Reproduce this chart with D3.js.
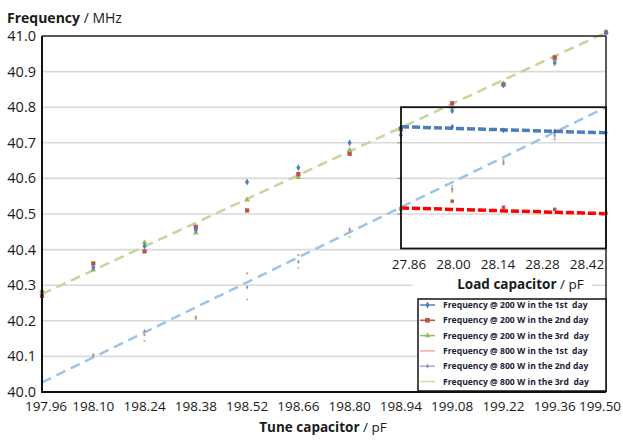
<!DOCTYPE html>
<html>
<head>
<meta charset="utf-8">
<title>Frequency vs tune capacitor</title>
<script src="https://d3js.org/d3.v7.min.js"></script>
<style>
  body { margin: 0; background: #fff; }
  text { font-family: "Open Sans", "DejaVu Sans", sans-serif; fill: #1a1a1a; }
</style>
</head>
<body>
<div id="chart"></div>
<script>
// tune capacitor values (pF)
const tuneCap = [197.96, 198.10, 198.24, 198.38, 198.52, 198.66, 198.80, 198.94, 199.08, 199.22, 199.36, 199.50];
const yTicks = [40.0, 40.1, 40.2, 40.3, 40.4, 40.5, 40.6, 40.7, 40.8, 40.9, 41.0];

// frequency readings (MHz)
const f200day1 = [40.28, 40.35, 40.41, 40.455, 40.59, 40.63, 40.70, 40.722, 40.79, 40.862, 40.925, 41.01];
const f200day2 = [40.27, 40.361, 40.395, 40.464, 40.51, 40.612, 40.669, 40.74, 40.811, 40.864, 40.94, 41.01];
const f200day3 = [40.285, 40.343, 40.42, 40.447, 40.54, 40.603, 40.68, 40.736, 40.80, 40.866, 40.935, 41.01];
const f800day1 = [40.03, 40.10, 40.16, 40.21, 40.333, 40.385, 40.45, 40.492, 40.563, 40.64, 40.71, 40.80];
const f800day2 = [40.03, 40.104, 40.171, 40.21, 40.294, 40.366, 40.457, 40.51, 40.57, 40.645, 40.72, 40.80];
const f800day3 = [40.03, 40.10, 40.143, 40.205, 40.26, 40.349, 40.436, 40.505, 40.579, 40.652, 40.727, 40.80];

// trend line end points
const trend200 = [40.275, 41.01];
const trend800 = [40.027, 40.80];

// inset: load capacitor (pF)
const loadCap = [27.86, 28.00, 28.14, 28.28, 28.42];
const load200 = [40.744, 40.745, 40.735, 40.732, 40.728];
const load800 = [40.515, 40.536, 40.519, 40.513, 40.502];
const loadTrend200 = [40.745, 40.728];
const loadTrend800 = [40.517, 40.501];

const legendLabels = [
  "Frequency @ 200 W in the 1st  day",
  "Frequency @ 200 W in the 2nd day",
  "Frequency @ 200 W in the 3rd  day",
  "Frequency @ 800 W in the 1st  day",
  "Frequency @ 800 W in the 2nd day",
  "Frequency @ 800 W in the 3rd  day"
];

const series = [
  { values: f200day1, color: "#4f81bd", shape: d3.symbolDiamond, size: 14, line: "#4f81bd" },
  { values: f200day2, color: "#c0504d", shape: d3.symbolSquare, size: 18, line: "#c0504d" },
  { values: f200day3, color: "#9bbb59", shape: d3.symbolTriangle, size: 14, line: "#9bbb59" },
  { values: f800day1, color: "#e88a8a", shape: d3.symbolSquare, size: 4, line: "#f0a9a9" },
  { values: f800day2, color: "#9d8ac4", shape: d3.symbolDiamond, size: 6, line: "#b3a5d3" },
  { values: f800day3, color: "#b5cf80", shape: d3.symbolSquare, size: 4, line: "#c9dca4" }
];

const W = 623, H = 442;
const svg = d3.select("#chart").append("svg").attr("width", W).attr("height", H);

const x = d3.scaleLinear().domain([197.96, 199.50]).range([42, 606]);
const y = d3.scaleLinear().domain([40.0, 41.0]).range([392, 36]);

// grid lines
svg.append("g").selectAll("line")
  .data(yTicks.slice(1, -1))
  .join("line")
  .attr("x1", x.range()[0]).attr("x2", x.range()[1])
  .attr("y1", d => y(d)).attr("y2", d => y(d))
  .attr("stroke", "#d9d9d9").attr("stroke-width", 1.6);

// y tick labels
svg.append("g").selectAll("text")
  .data(yTicks)
  .join("text")
  .attr("x", 36).attr("y", d => y(d) + 5)
  .attr("text-anchor", "end")
  .style("font-size", "14.5px")
  .text(d => d.toFixed(1));

// x tick labels (edge labels nudged inward like the original)
const last = tuneCap.length - 1;
svg.append("g").selectAll("text")
  .data(tuneCap)
  .join("text")
  .attr("x", (d, i) => x(d) + (i === 0 ? 4 : i === last ? -6 : 0)).attr("y", 411)
  .attr("text-anchor", "middle")
  .style("font-size", "13.5px")
  .text(d => d.toFixed(2));

// trend lines
const trendLine = (vals, color) => svg.append("line")
  .attr("x1", x(197.96)).attr("x2", x(199.50))
  .attr("y1", y(vals[0])).attr("y2", y(vals[1]))
  .attr("stroke", color).attr("stroke-width", 2.5)
  .attr("stroke-dasharray", "10,6");
trendLine(trend800, "#9dc3e6");
trendLine(trend200, "#c4d79b");

// data markers (800 W first so 200 W sits on top)
[5, 4, 3, 2, 1, 0].forEach(i => {
  const s = series[i];
  svg.append("g").selectAll("path")
    .data(tuneCap)
    .join("path")
    .attr("transform", (d, j) => `translate(${x(d)},${y(s.values[j])})`)
    .attr("d", d3.symbol().type(s.shape).size(s.size))
    .attr("fill", s.color);
});

// frame
svg.append("line").attr("x1", 42).attr("x2", 606).attr("y1", 36).attr("y2", 36)
  .attr("stroke", "#222").attr("stroke-width", 1.5);
svg.append("line").attr("x1", 606).attr("x2", 606).attr("y1", 36).attr("y2", 392)
  .attr("stroke", "#222").attr("stroke-width", 1.5);
svg.append("line").attr("x1", 42).attr("x2", 42).attr("y1", 36).attr("y2", 393)
  .attr("stroke", "#111").attr("stroke-width", 2);
svg.append("line").attr("x1", 41).attr("x2", 606).attr("y1", 392).attr("y2", 392)
  .attr("stroke", "#111").attr("stroke-width", 2);

// ---- inset: load capacitor ----
const xi = d3.scaleLinear().domain([27.86, 28.42]).range([401, 606]);
const xiLabel = d3.scaleLinear().domain([27.86, 28.42]).range([409, 587]);
const insetTop = y(40.8), insetBottom = 248.5;

svg.append("g").selectAll("line")
  .data(yTicks.filter(d => d > 40.4 && d < 40.8))
  .join("line")
  .attr("x1", 397).attr("x2", 401)
  .attr("y1", d => y(d)).attr("y2", d => y(d))
  .attr("stroke", "#999").attr("stroke-width", 1);

const insetLine = (vals, color) => svg.append("line")
  .attr("x1", xi(27.86)).attr("x2", xi(28.42))
  .attr("y1", y(vals[0])).attr("y2", y(vals[1]))
  .attr("stroke", color).attr("stroke-width", 3.5)
  .attr("stroke-dasharray", "8,3");
insetLine(loadTrend200, "#4a7ebb");
insetLine(loadTrend800, "#ff0000");

svg.append("g").selectAll("path")
  .data(loadCap)
  .join("path")
  .attr("transform", (d, j) => `translate(${xi(d)},${y(load200[j])})`)
  .attr("d", d3.symbol().type(d3.symbolDiamond).size(10))
  .attr("fill", "#3d6fae");
svg.append("g").selectAll("path")
  .data(loadCap)
  .join("path")
  .attr("transform", (d, j) => `translate(${xi(d)},${y(load800[j])})`)
  .attr("d", d3.symbol().type(d3.symbolSquare).size(12))
  .attr("fill", "#c0504d");

svg.append("rect")
  .attr("x", 401).attr("y", insetTop)
  .attr("width", 606 - 401).attr("height", insetBottom - insetTop)
  .attr("fill", "none").attr("stroke", "#111").attr("stroke-width", 1.8);

svg.append("g").selectAll("text")
  .data(loadCap)
  .join("text")
  .attr("x", d => xiLabel(d)).attr("y", 269)
  .attr("text-anchor", "middle")
  .style("font-size", "13.5px")
  .text(d => d.toFixed(2));

svg.append("rect").attr("x", 413).attr("y", 276).attr("width", 179).attr("height", 18).attr("fill", "#fff");
const loadTitle = svg.append("text").attr("x", 520.5).attr("y", 289)
  .attr("text-anchor", "middle").style("font-size", "13.5px");
loadTitle.append("tspan").style("font-weight", "bold").text("Load capacitor");
loadTitle.append("tspan").text(" / pF");

// ---- legend ----
const lg = svg.append("g");
lg.append("rect").attr("x", 418).attr("y", 299).attr("width", 188).attr("height", 92)
  .attr("fill", "#fff").attr("stroke", "#111").attr("stroke-width", 1.5);
legendLabels.forEach((lab, i) => {
  const s = series[i];
  const cy = 305 + i * 15.3;
  lg.append("line").attr("x1", 420).attr("x2", 435).attr("y1", cy).attr("y2", cy)
    .attr("stroke", s.line).attr("stroke-width", 1.5);
  if (i < 3 || i === 4) {
    lg.append("path").attr("transform", `translate(427.5,${cy})`)
      .attr("d", d3.symbol().type(s.shape).size(i === 1 ? 22 : i === 4 ? 8 : 14))
      .attr("fill", s.color);
  }
  lg.append("text").attr("x", 443).attr("y", cy + 3)
    .style("font-size", "8.6px").style("font-weight", "bold")
    .style("fill", "#1d1d35").style("white-space", "pre")
    .attr("xml:space", "preserve")
    .text(lab);
});

// ---- axis titles ----
const yTitle = svg.append("text").attr("x", 7).attr("y", 23).style("font-size", "14px");
yTitle.append("tspan").style("font-weight", "bold").text("Frequency");
yTitle.append("tspan").text(" / MHz");

const xTitle = svg.append("text").attr("x", 323).attr("y", 432)
  .attr("text-anchor", "middle").style("font-size", "13.5px");
xTitle.append("tspan").style("font-weight", "bold").text("Tune capacitor");
xTitle.append("tspan").text(" / pF");
</script>
</body>
</html>
